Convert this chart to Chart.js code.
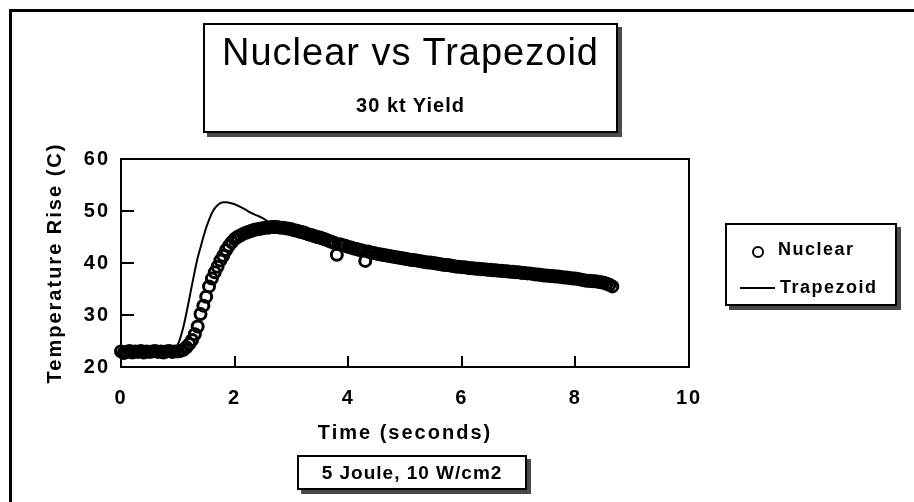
<!DOCTYPE html>
<html>
<head>
<meta charset="utf-8">
<script src="https://cdn.jsdelivr.net/npm/chart.js@4.4.0/dist/chart.umd.min.js"></script>
<style>
  html, body { margin: 0; padding: 0; background: #fff; }
  body { width: 914px; height: 502px; position: relative; overflow: hidden; font-family: "Liberation Sans", Arial, sans-serif; color: #000; }
  #c { position: absolute; left: 0; top: 0; }
  .frame { position: absolute; left: 9px; top: 9px; width: 1000px; height: 600px; border-left: 3px solid #000; border-top: 3px solid #000; }
  .box { position: absolute; background: #fff; border: 2px solid #000; box-shadow: 4px 4px 0 #4a4a4a; box-sizing: border-box; }
  .abs { position: absolute; white-space: nowrap; }
</style>
</head>
<body>
<div class="frame"></div>
<canvas id="c" width="914" height="502"></canvas>

<div class="box" style="left:203px; top:23px; width:415px; height:110px;">
  <div class="abs" style="left:0; width:411px; top:8px; text-align:center; font-size:38px; line-height:38px; letter-spacing:1px;">Nuclear vs Trapezoid</div>
  <div class="abs" style="left:0; width:411px; top:70px; text-align:center; font-size:20px; line-height:20px; font-weight:bold; letter-spacing:1px;">30 kt Yield</div>
</div>

<div class="box" style="left:725px; top:223px; width:172px; height:83px;">
  <div class="abs" style="left:25px; top:21px; width:8px; height:8px; border:2.5px solid #000; border-radius:50%;"></div>
  <div class="abs" style="left:51px; top:15px; font-size:18px; line-height:18px; font-weight:bold; letter-spacing:1.5px;">Nuclear</div>
  <div class="abs" style="left:13px; top:62px; width:35px; height:2px; background:#000;"></div>
  <div class="abs" style="left:53px; top:53px; font-size:18px; line-height:18px; font-weight:bold; letter-spacing:1.5px;">Trapezoid</div>
</div>

<div class="box" style="left:297px; top:455px; width:230px; height:35px; display:flex; align-items:center; justify-content:center;">
  <span style="font-size:19px; font-weight:bold; letter-spacing:1px;">5 Joule, 10 W/cm2</span>
</div>

<script>
// ---- data ----
const tNuclear = [
  0.00,0.05,0.10,0.15,0.20,0.25,0.30,0.35,0.40,0.45,0.50,0.55,0.60,0.65,0.70,0.75,0.80,0.85,0.90,0.95,
  1.00,1.05,1.10,1.15,1.20,1.25,1.30,1.35,1.40,1.45,1.50,1.55,1.60,1.65,1.70,1.75,1.80,1.85,1.90,1.95,
  2.00,2.05,2.10,2.15,2.20,2.25,2.30,2.35,2.40,2.45,2.50,2.55,2.60,2.65,2.70,2.75,2.80,2.85,2.90,2.95,
  3.00,3.05,3.10,3.15,3.20,3.25,3.30,3.35,3.40,3.45,3.50,3.55,3.60,3.65,3.70,3.75,3.80,3.85,3.90,3.95,
  4.00,4.05,4.10,4.15,4.20,4.25,4.30,4.35,4.40,4.45,4.50,4.55,4.60,4.65,4.70,4.75,4.80,4.85,4.90,4.95,
  5.00,5.05,5.10,5.15,5.20,5.25,5.30,5.35,5.40,5.45,5.50,5.55,5.60,5.65,5.70,5.75,5.80,5.85,5.90,5.95,
  6.00,6.05,6.10,6.15,6.20,6.25,6.30,6.35,6.40,6.45,6.50,6.55,6.60,6.65,6.70,6.75,6.80,6.85,6.90,6.95,
  7.00,7.05,7.10,7.15,7.20,7.25,7.30,7.35,7.40,7.45,7.50,7.55,7.60,7.65,7.70,7.75,7.80,7.85,7.90,7.95,
  8.00,8.05,8.10,8.15,8.20,8.25,8.30,8.35,8.40,8.45,8.50,8.55,8.60,8.65
];
const vNuclear = [
  23.0,22.7,22.9,23.1,22.8,23.0,22.9,23.1,22.8,23.0,22.9,23.0,23.1,22.9,23.0,22.8,23.0,23.1,22.9,23.0,
  23.0,23.1,23.3,23.8,24.4,25.2,26.3,27.8,30.2,31.8,33.5,35.5,37.0,38.2,39.3,40.5,41.4,42.5,43.3,44.0,
  44.6,45.0,45.3,45.6,45.8,46.0,46.2,46.4,46.5,46.6,46.7,46.8,46.8,46.9,46.9,46.9,46.8,46.8,46.7,46.6,
  46.5,46.3,46.2,46.0,45.9,45.7,45.5,45.4,45.2,45.0,44.9,44.7,44.5,44.3,44.1,43.9,41.6,43.6,43.4,43.3,
  43.1,43.0,42.8,42.7,42.5,42.4,40.4,42.2,42.0,41.9,41.8,41.7,41.6,41.5,41.4,41.3,41.2,41.1,41.0,40.9,
  40.8,40.7,40.6,40.6,40.5,40.4,40.3,40.2,40.1,40.1,40.0,39.9,39.8,39.7,39.6,39.6,39.5,39.4,39.3,39.3,
  39.2,39.2,39.1,39.0,39.0,38.9,38.9,38.8,38.8,38.7,38.7,38.6,38.6,38.5,38.5,38.4,38.4,38.3,38.3,38.2,
  38.2,38.1,38.1,38.0,38.0,37.9,37.8,37.8,37.7,37.6,37.6,37.5,37.5,37.4,37.4,37.3,37.2,37.2,37.1,37.0,
  37.0,36.9,36.8,36.7,36.6,36.6,36.5,36.5,36.4,36.3,36.2,36.0,35.8,35.5
];
const tTrap = [0,0.5,0.9,0.95,1.0,1.05,1.1,1.15,1.2,1.25,1.3,1.35,1.4,1.45,1.5,1.55,1.6,1.65,1.7,1.75,
  1.8,1.85,1.9,2.0,2.1,2.2,2.3,2.4,2.5,2.6,2.7,2.8,3.0,3.5,4.0,4.5,5.0,5.5,6.0,6.5,7.0,7.5,8.0,8.5,8.65];
const vTrap = [23,23,23,23.5,24.3,25.8,27.8,30.3,33,35.8,38.5,41,43,45,46.8,48.3,49.6,50.5,51.1,51.5,
  51.7,51.7,51.6,51.3,50.8,50.2,49.6,49.1,48.6,47.9,47.3,46.9,46.5,45,43.2,41.9,40.9,40.1,39.3,38.7,38.2,37.6,37.0,36.2,35.7];
const seriesNames = ["Nuclear", "Trapezoid"];
const xTitle = "Time (seconds)";
const yTitle = "Temperature Rise (C)";
const xRange = [0, 10], xStep = 2;
const yRange = [20, 60], yStep = 10;

const FONT = '"Liberation Sans", Arial, sans-serif';

const framePlugin = {
  id: 'framePlugin',
  beforeDraw(chart) { chart.ctx.letterSpacing = '2px'; },
  afterDatasetsDraw(chart) {
    const ctx = chart.ctx, a = chart.chartArea;
    const xs = chart.scales.x, ys = chart.scales.y;
    ctx.save();
    ctx.letterSpacing = '0px';
    ctx.strokeStyle = '#000';
    ctx.lineWidth = 2;
    ctx.strokeRect(a.left, a.top, a.right - a.left, a.bottom - a.top);
    ctx.beginPath();
    xs.ticks.forEach(t => {
      if (t.value > xRange[0] && t.value < xRange[1]) {
        const px = Math.round(xs.getPixelForValue(t.value));
        ctx.moveTo(px, a.bottom); ctx.lineTo(px, a.bottom - 11);
      }
    });
    ys.ticks.forEach(t => {
      if (t.value > yRange[0] && t.value < yRange[1]) {
        const py = Math.round(ys.getPixelForValue(t.value));
        ctx.moveTo(a.left, py); ctx.lineTo(a.left + 13, py);
      }
    });
    ctx.stroke();
    ctx.restore();
  }
};

new Chart(document.getElementById('c'), {
  type: 'scatter',
  data: {
    datasets: [
      {
        label: seriesNames[0],
        data: tNuclear.map((t, i) => ({ x: t, y: vNuclear[i] })),
        showLine: false,
        pointStyle: 'circle',
        pointRadius: 5.5,
        pointBorderWidth: 3,
        pointBorderColor: '#000',
        pointBackgroundColor: 'rgba(255,255,255,0)',
        order: 0,
        clip: false
      },
      {
        label: seriesNames[1],
        data: tTrap.map((t, i) => ({ x: t, y: vTrap[i] })),
        showLine: true,
        borderColor: '#000',
        borderWidth: 2,
        pointRadius: 0,
        cubicInterpolationMode: 'monotone',
        order: 1,
        clip: false
      }
    ]
  },
  options: {
    responsive: false,
    animation: false,
    devicePixelRatio: 1,
    layout: { padding: { left: 20, top: 159, right: 225, bottom: 45 } },
    plugins: { legend: { display: false }, tooltip: { enabled: false } },
    scales: {
      x: {
        type: 'linear', min: xRange[0], max: xRange[1],
        afterFit(s) { s.height = 90; },
        grid: { display: false, drawTicks: false },
        border: { display: false },
        ticks: { stepSize: xStep, color: '#000', padding: 19, font: { family: FONT, size: 20, weight: 'bold' } },
        title: { display: true, text: xTitle, color: '#000', padding: { top: 0, bottom: 12 }, font: { family: FONT, size: 20, weight: 'bold' } }
      },
      y: {
        type: 'linear', min: yRange[0], max: yRange[1],
        afterFit(s) { s.width = 101; },
        grid: { display: false, drawTicks: false },
        border: { display: false },
        ticks: { stepSize: yStep, color: '#000', padding: 11, font: { family: FONT, size: 20, weight: 'bold' } },
        title: { display: true, text: yTitle, color: '#000', padding: { top: 23, bottom: 0 }, font: { family: FONT, size: 20, weight: 'bold' } }
      }
    }
  },
  plugins: [framePlugin]
});
</script>
</body>
</html>
